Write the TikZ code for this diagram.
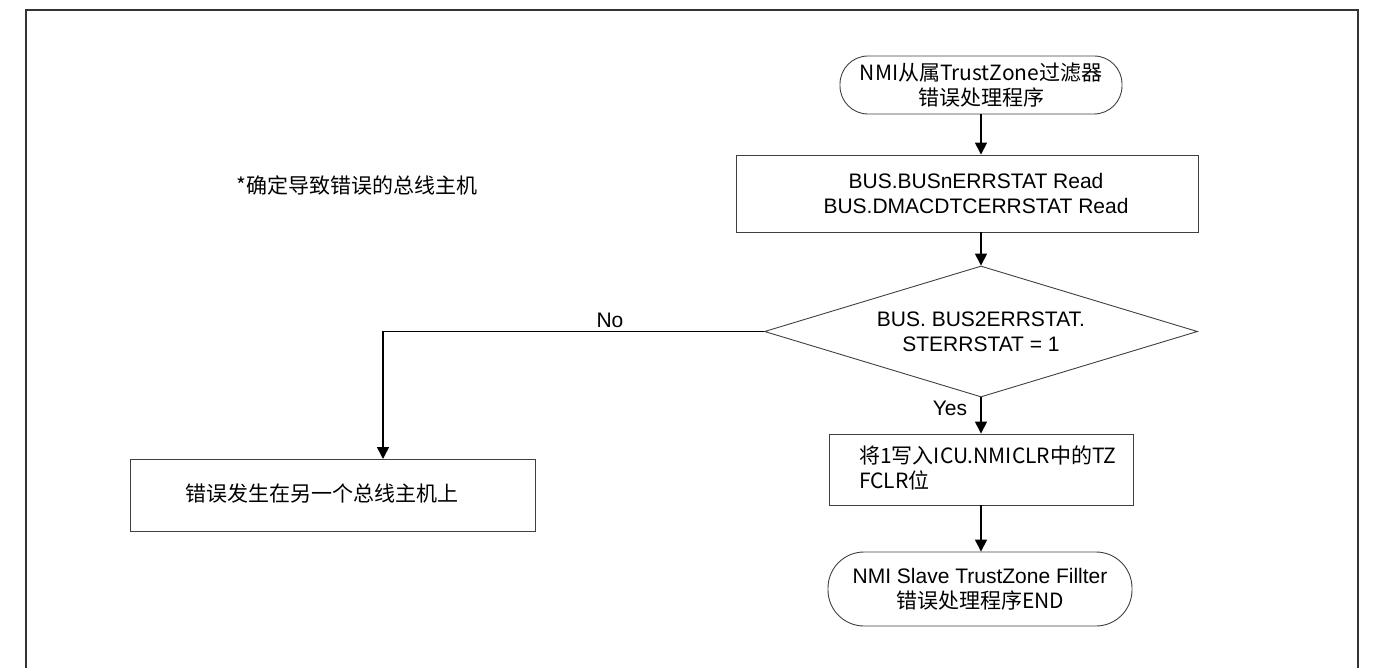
\documentclass[tikz,border=0pt]{standalone}
\usepackage{fontspec}
\setmainfont{Liberation Sans}
\newfontfamily\cjk{Noto Sans CJK SC}
\usetikzlibrary{shapes.geometric,arrows.meta}
\tikzset{
  base/.style={font=\fontsize{21}{25}\selectfont, align=center, inner sep=0pt, draw=black!75, line width=0.9pt},
  term/.style={base, rounded corners=28pt},
  proc/.style={base},
  decide/.style={base, diamond, aspect=3.3},
  arr/.style={line width=1.5pt, -{Triangle[length=12pt,width=12pt]}},
  lbl/.style={font=\fontsize{21}{25}\selectfont, inner sep=0pt},
  frame/.style={line width=1.4pt, draw=black!80}
}
\begin{document}
\begin{tikzpicture}[x=1pt,y=-1pt]
\useasboundingbox (0,0) rectangle (1379,668);
\draw[frame] (26,668) -- (26,10) -- (1358,10) -- (1358,668);

\node[term, minimum width=282, minimum height=58] (start) at (981,85)
  {\cjk NMI从属TrustZone过滤器\\\cjk 错误处理程序};
\node[proc, minimum width=462, minimum height=77] (read) at (967,193.5) {};
\node[lbl, align=center] (readtxt) at (976,193.5)
  {BUS.BUSnERRSTAT Read\\BUS.DMACDTCERRSTAT Read};
\node[decide, minimum width=433, minimum height=131] (dia) at (981,331.5)
  {BUS. BUS2ERRSTAT.\\STERRSTAT = 1};
\node[proc, minimum width=304, minimum height=71] (clr) at (981,469.5) {};
\node[lbl, anchor=north west, align=left] (clrtxt) at (859,446)
  {\cjk 将1写入ICU.NMICLR中的TZ\\\cjk FCLR位};
\node[term, rounded corners=36pt, minimum width=304, minimum height=74] (endt) at (980,589)
  {NMI Slave TrustZone Fillter\\\cjk 错误处理程序END};
\node[proc, minimum width=405, minimum height=72] (other) at (332.5,495) {};
\node[lbl, anchor=west] (othertxt) at (185,494) {\cjk 错误发生在另一个总线主机上};
\node[lbl, anchor=west] (note) at (236,185) {\cjk *确定导致错误的总线主机};

\coordinate (nb) at (383,459);
\draw[arr] (start.south) -- (start.south |- read.north);
\draw[arr] (read.south -| dia.north) -- (dia.north);
\draw[arr] (dia.south) -- (dia.south |- clr.north);
\draw[arr] (clr.south) -- (clr.south |- endt.north);
\draw[arr] (dia.west) -| (nb);
\node[lbl] (no) at (610,320) {No};
\node[lbl] (yes) at (950,408) {Yes};
\end{tikzpicture}
\end{document}
